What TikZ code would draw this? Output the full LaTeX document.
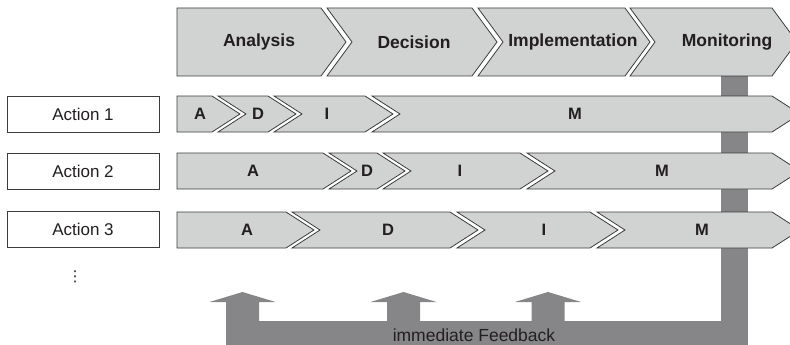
\documentclass[tikz,border=0pt]{standalone}
\usepackage{fontspec}
\setmainfont{Liberation Sans}
\newfontfamily\symfont{DejaVu Sans}
\usetikzlibrary{positioning}
\definecolor{chevfill}{RGB}{209,210,210}
\definecolor{chevline}{RGB}{60,60,62}
\definecolor{fbgrey}{RGB}{134,134,137}
\definecolor{txt}{RGB}{35,31,32}

\begin{document}
\begin{tikzpicture}[x=1pt, y=-1pt, node distance=21pt,
		chev/.style={fill=chevfill, draw=chevline, line width=0.8pt, line join=miter},
		phase/.style={font=\fontsize{17.5}{20}\selectfont\bfseries, text=txt},
		seg/.style={font=\fontsize{16.5}{18}\selectfont\bfseries, text=txt},
		action/.style={draw=chevline, line width=0.8pt, fill=white, minimum width=152pt, minimum height=36pt, font=\fontsize{17}{20}\selectfont, text=txt},
		feedback/.style={fill=fbgrey, draw=none}]
				\useasboundingbox (0,0) rectangle (790,345);
				\clip (0,0) rectangle (790,345);
				% feedback line from monitoring
				\fill[feedback] (721,76) rectangle (748,345);
				% phases
				\foreach \xa/\xb/\nt in {177/321/0, 327/472/25, 478/625/25, 630/772/25}
					\draw[chev] (\xa,8) -- (\xb,8) -- (\xb+25,42) -- (\xb,76) -- (\xa,76) -- (\xa+\nt,42) -- cycle;
				\node[phase] (ana) at (259,42) {Analysis};
				\node[phase] (dec) at (414,42) {Decision};
				\node[phase] (imp) at (573,42) {Implementation};
				\node[phase] (mon) at (727,42) {Monitoring};
				% actions
				\node[action] (act1) at (83,114) {Action 1};
				\node[action, below=of act1] (act2) {Action 2};
				\node[action, below=of act2] (act3) {Action 3};
				\node[font=\symfont\fontsize{15}{18}\selectfont, text=txt] (more) at (75,277) {⋮};
				\foreach \xa/\xb/\nt in {177/212/0, 218/268/28, 274/365/28, 372/772/28}
					\draw[chev] (\xa,96) -- (\xb,96) -- (\xb+28,114) -- (\xb,132) -- (\xa,132) -- (\xa+\nt,114) -- cycle;
				\foreach \xa/\xb/\nt in {177/323/0, 329/377/28, 383/520/28, 527/772/28}
					\draw[chev] (\xa,153) -- (\xb,153) -- (\xb+28,171) -- (\xb,189) -- (\xa,189) -- (\xa+\nt,171) -- cycle;
				\foreach \xa/\xb/\nt in {177/286/0, 292/450/28, 457/590/28, 597/772/28}
					\draw[chev] (\xa,212) -- (\xb,212) -- (\xb+28,230) -- (\xb,248) -- (\xa,248) -- (\xa+\nt,230) -- cycle;
				\node[seg] (a1) at (200,114) {A};
				\node[seg] (d1) at (258,114) {D};
				\node[seg] (i1) at (327,114) {I};
				\node[seg] (m1) at (575,114) {M};
				\node[seg] (a2) at (253,171) {A};
				\node[seg] (d2) at (367,171) {D};
				\node[seg] (i2) at (460,171) {I};
				\node[seg] (m2) at (662,171) {M};
				\node[seg] (a3) at (247,230) {A};
				\node[seg] (d3) at (388,230) {D};
				\node[seg] (i3) at (544,230) {I};
				\node[seg] (m3) at (702,230) {M};
				% immediate feedback
				\fill[feedback] (226,321) rectangle (748,345);
				\foreach \xc in {242.5, 403.5, 548}
					\fill[feedback] (\xc-16.5,322) -- (\xc-16.5,302) -- (\xc-33,302) -- (\xc,292)
						-- (\xc+33,302) -- (\xc+16.5,302) -- (\xc+16.5,322) -- cycle;
				\node[font=\fontsize{17.5}{20}\selectfont, text=txt, anchor=base] (fb) at (474,341) {immediate Feedback};
			\end{tikzpicture}
\end{document}
